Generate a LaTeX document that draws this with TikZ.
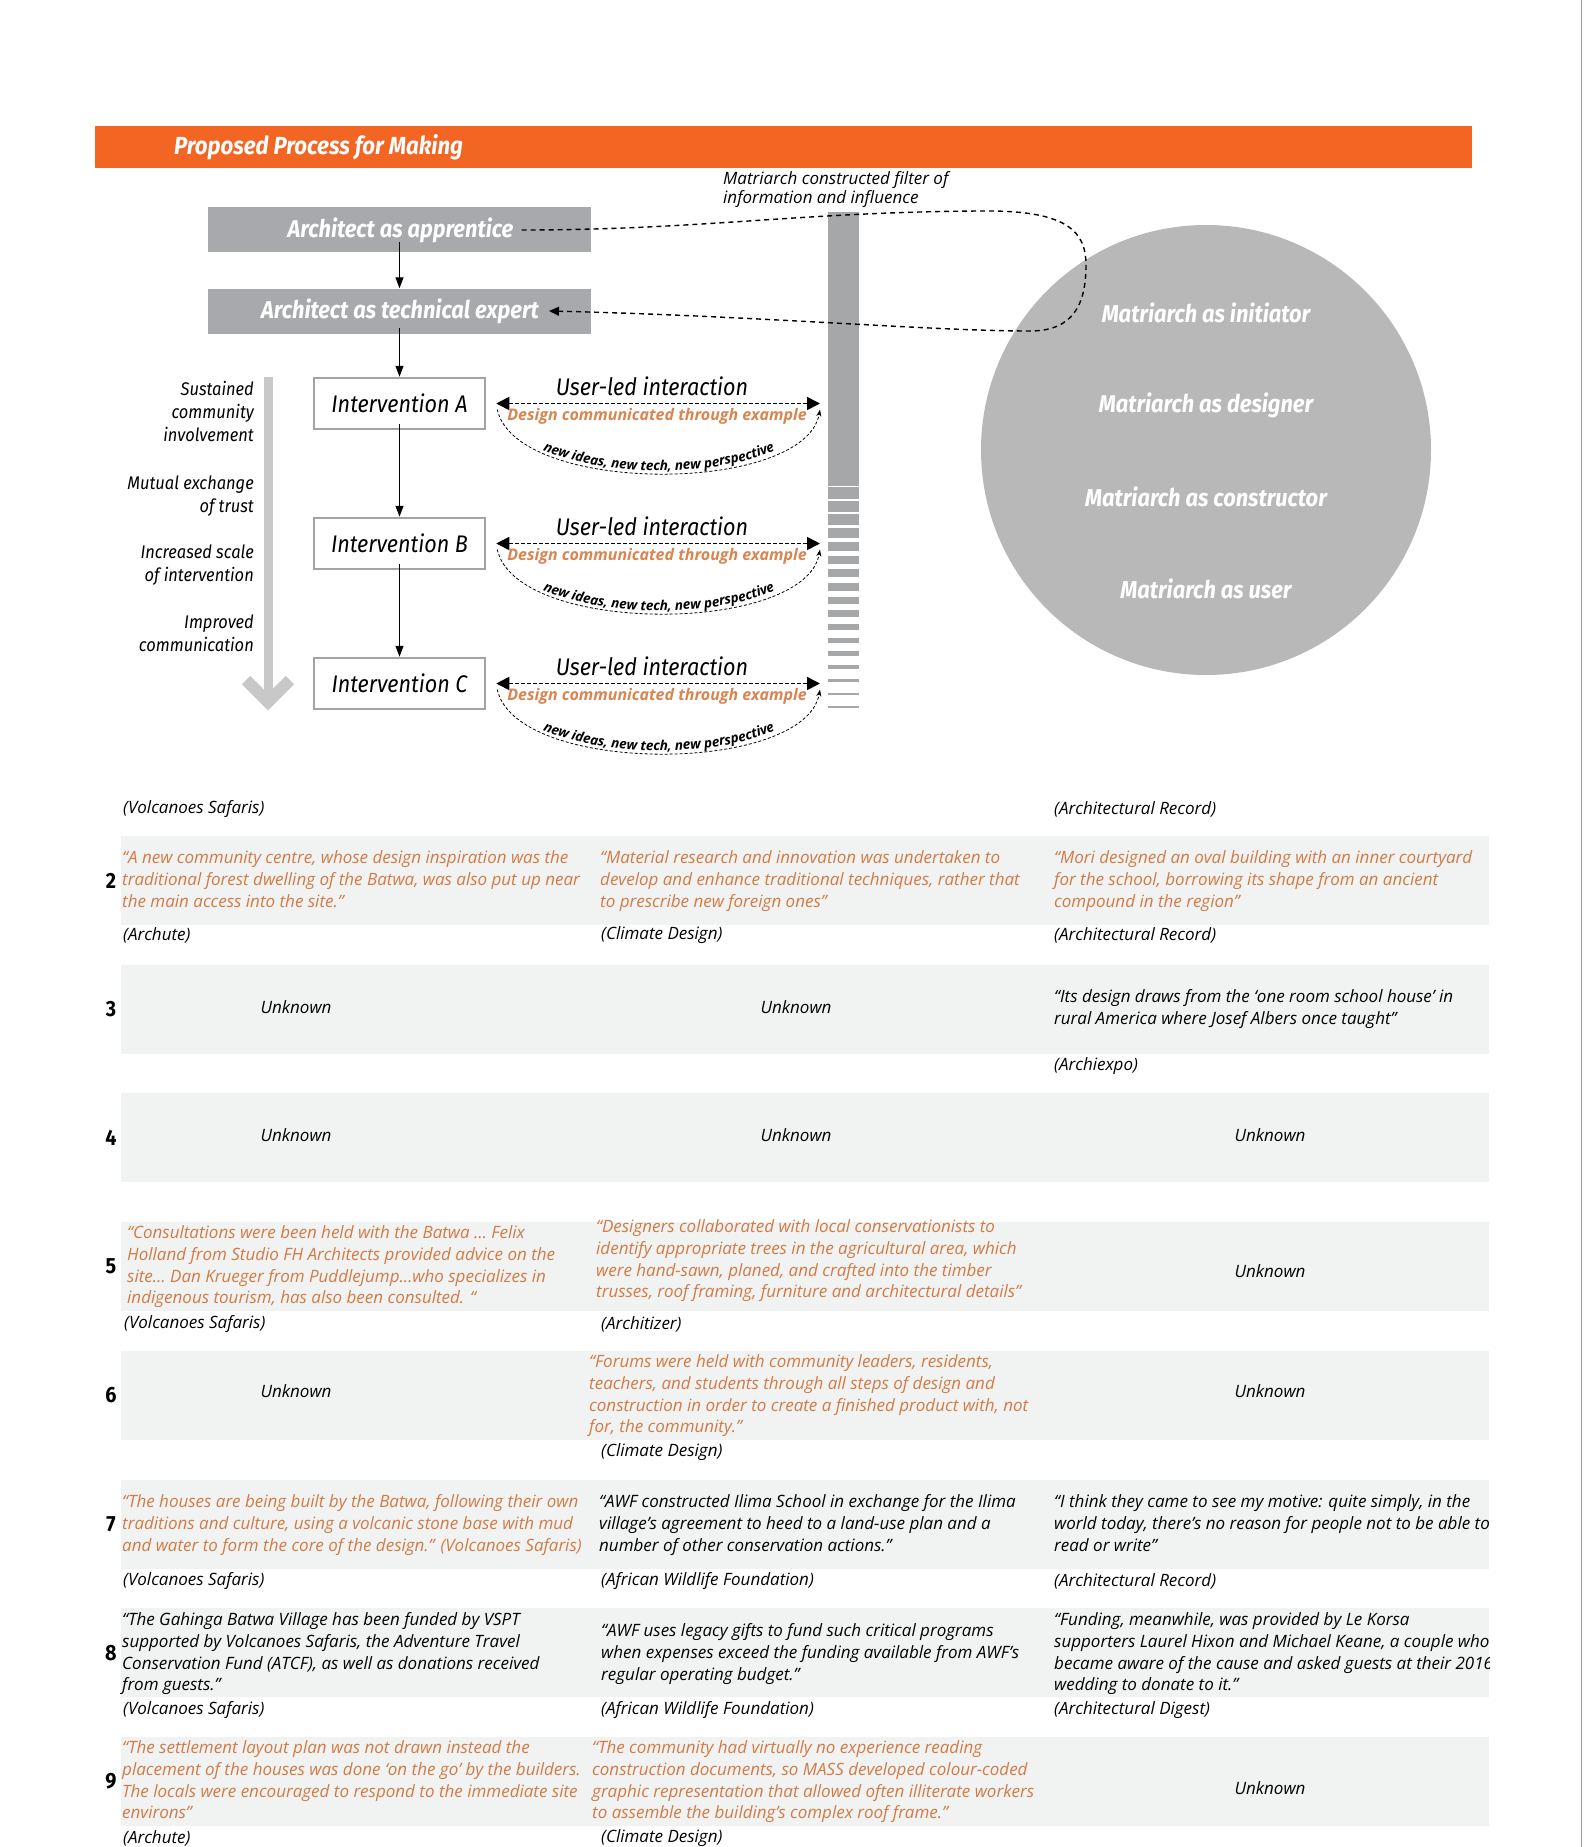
\documentclass[tikz,border=0pt]{standalone}
\usepackage{fontspec}
\setmainfont{Open Sans}
\newfontfamily\din{Fira Sans}[FakeStretch=0.9]
\usetikzlibrary{arrows.meta,decorations.text,calc}
\definecolor{bannerorange}{HTML}{F26522}
\definecolor{txtorange}{HTML}{D27B45}
\definecolor{dceorange}{HTML}{DA8550}
\definecolor{boxgray}{HTML}{A7A9AC}
\definecolor{circgray}{HTML}{B8B8B8}
\definecolor{bargray}{HTML}{A6A7A9}
\definecolor{lightarrow}{HTML}{C8C8C8}
\definecolor{bandgray}{HTML}{F1F2F2}
\definecolor{ivborder}{HTML}{A3A3A3}
\definecolor{edgegray}{HTML}{9A9A9A}
\tikzset{
  archbox/.style={fill=boxgray, minimum width=383pt, minimum height=45pt, inner sep=0pt},
  archtxt/.style={text=white, inner sep=0pt, font=\din\bfseries\itshape\fontsize{24.3}{28}\selectfont},
  flow/.style={line width=1.2pt, -{Triangle[length=11pt,width=8pt]}},
  ivbox/.style={draw=ivborder, line width=2.5pt, fill=white, minimum width=171pt, minimum height=51pt, inner sep=0pt, font=\din\itshape\fontsize{24}{28}\selectfont},
  sidelab/.style={align=right, anchor=east, inner sep=0pt, font=\din\itshape\fontsize{18.3}{23}\selectfont},
  uli/.style={inner sep=0pt, font=\din\itshape\fontsize{24}{28}\selectfont},
  dce/.style={inner sep=0pt, text=dceorange, font=\bfseries\itshape\fontsize{16}{18}\selectfont},
  dbl/.style={line width=1.6pt, dash pattern=on 4pt off 2pt, {Triangle[length=13pt,width=13pt]}-{Triangle[length=13pt,width=13pt]}, shorten <=10pt, shorten >=8pt},
  arcd/.style={line width=0.8pt, dash pattern=on 3pt off 2pt, -{Stealth[length=7pt,width=5pt]}},
  loopd/.style={line width=1.4pt, dash pattern=on 5pt off 4pt, -{Triangle[length=10pt,width=9pt]}},
  matx/.style={text=white, inner sep=0pt, font=\din\bfseries\itshape\fontsize{24.3}{28}\selectfont},
  rownum/.style={inner sep=0pt, font=\din\bfseries\fontsize{22}{24}\selectfont},
  tb/.style={anchor=west, align=left, inner sep=0pt, font=\itshape\fontsize{17}{21.7}\selectfont},
  tbo/.style={tb, text=txtorange},
  unk/.style={inner sep=0pt, font=\itshape\fontsize{17}{21.7}\selectfont}
}
\begin{document}
\begin{tikzpicture}[x=1pt,y=-1pt]
\useasboundingbox (0,0) rectangle (1583,1847);
\fill[white] (0,0) rectangle (1583,1847);
% right page edge
\draw[edgegray, line width=1.5pt] (1581.5,0) -- (1581.5,1847);

% banner
\node[fill=bannerorange, minimum width=1377pt, minimum height=42pt, inner sep=0pt, anchor=north west] (banner) at (95,126) {};
\node[anchor=west, text=white, inner sep=0pt, font=\din\bfseries\itshape\fontsize{24.7}{28}\selectfont] (title) at (174,147) {Proposed Process for Making};

% caption
\node[anchor=west, align=left, inner sep=0pt, font=\itshape\fontsize{17}{18}\selectfont] (cap) at (723,190) {\strut Matriarch constructed filter of\\information and influence\strut};

% architect boxes
\node[archbox] (app) at (399.5,229.5) {};
\node[archtxt] (appt) at (400.5,230) {Architect as apprentice};
\node[archbox] (tech) at (399.5,311) {};
\node[archtxt] (techt) at (400,311) {Architect as technical expert};

% interventions
\node[ivbox] (ivA) at (399.5,403.5) {Intervention A};
\node[ivbox] (ivB) at (399.5,543.5) {Intervention B};
\node[ivbox] (ivC) at (399.5,683.5) {Intervention C};

\draw[flow] ([yshift=10pt]app.south) -- (tech.north);
\draw[flow] ([yshift=6pt]tech.south) -- (ivA.north);
\draw[flow] ([yshift=6pt]ivA.south) -- (ivB.north);
\draw[flow] ([yshift=6pt]ivB.south) -- (ivC.north);

% left labels and gray arrow
\draw[line width=9pt, lightarrow] (268,377) -- (268,700);
\draw[line width=12pt, lightarrow] (246,680) -- (268,702) -- (290,680);
\node[sidelab] (l1) at (254,414) {\strut Sustained\\community\\involvement\strut};
\node[sidelab] (l2) at (254,496) {\strut Mutual exchange\\of trust\strut};
\node[sidelab] (l3) at (254,565.5) {\strut Increased scale\\of intervention\strut};
\node[sidelab] (l4) at (254,635.5) {\strut Improved\\communication\strut};

% filter bar
\node[fill=bargray, minimum width=31pt, minimum height=274pt, inner sep=0pt, anchor=north west] (filter) at (828,212) {};
\foreach \i in {0,...,16} {
  \fill[bargray] (828,{487+13.7*\i}) rectangle (859,{487+13.7*\i+12-0.62*\i});
}

% user-led interactions
\foreach \n/\dy in {A/0,B/140,C/280} {
  \node[uli] (uli\n) at (652,{386+\dy}) {User-led interaction};
  \draw[dbl] (iv\n.east) -- (iv\n.east -| filter.west);
  \node[dce] (dce\n) at (657,{416+\dy}) {Design communicated through example};
  \coordinate (as\n) at ($(iv\n.east)+(11,6)$);
  \coordinate (ae\n) at ($(iv\n.east -| filter.west)+(-8,6)$);
  \draw[arcd] (as\n) .. controls ($(as\n)+(19,86)$) and ($(ae\n)+(-15,85)$) .. (ae\n);
  \path[decorate, decoration={text along path, text align=center, raise=3pt,
     text={|\bfseries\itshape\fontsize{13.5}{14}\selectfont|new ideas{,} new tech{,} new perspective}}]
     (as\n) .. controls ($(as\n)+(19,86)$) and ($(ae\n)+(-15,85)$) .. (ae\n);
}

% matriarch circle
\node[circle, fill=circgray, minimum size=450pt, inner sep=0pt] (matri) at (1206,450) {};
\node[matx] (m1) at (1206,313) {Matriarch as initiator};
\node[matx] (m2) at (1206,405) {Matriarch as designer};
\node[matx] (m3) at (1206,497) {Matriarch as constructor};
\node[matx] (m4) at (1206,589) {Matriarch as user};

% dashed loop
\draw[loopd] ($(appt.east)+(8,0)$) .. controls (700,230) and (800,212) .. (980,211)
  .. controls (1062,210) and (1086,228) .. (1086,265)
  .. controls (1086,306) and (1072,331) .. (1030,331)
  .. controls (930,331) and (760,316) .. ($(techt.east)+(10,0)$);

% table bands
\foreach \r in {0,...,7} {
  \fill[bandgray] (121,{836+128.7*\r}) rectangle (1489,{925+128.7*\r});
}
\foreach \r in {2,...,9} {
  \node[rownum] (n\r) at (111,{880.5+128.7*(\r-2)}) {\r};
}

\begin{scope}
\clip (0,780) rectangle (1489,1847);
% row 1
\node[tb] (s1a) at (123,809) {(Volcanoes Safaris)};
\node[tb] (s1c) at (1054,809) {(Architectural Record)};
% row 2
\node[tbo] (q2a) at (122,881) {\strut “A new community centre, whose design inspiration was the\\traditional forest dwelling of the Batwa, was also put up near\\the main access into the site.”\strut};
\node[tbo] (q2b) at (600,881) {\strut “Material research and innovation was undertaken to\\develop and enhance traditional techniques, rather that\\to prescribe new foreign ones”\strut};
\node[tbo] (q2c) at (1054,881) {\strut “Mori designed an oval building with an inner courtyard\\for the school, borrowing its shape from an ancient\\compound in the region”\strut};
\node[tb] (s2a) at (123,935) {(Archute)};
\node[tb] (s2b) at (601,935) {(Climate Design)};
\node[tb] (s2c) at (1054,935) {(Architectural Record)};
% row 3
\node[unk] (u3a) at (296,1007) {Unknown};
\node[unk] (u3b) at (796,1007) {Unknown};
\node[tb] (q3c) at (1054,1009) {\strut “Its design draws from the ‘one room school house’ in\\rural America where Josef Albers once taught”\strut};
\node[tb] (s3c) at (1054,1066) {(Archiexpo)};
% row 4
\node[unk] (u4a) at (296,1135) {Unknown};
\node[unk] (u4b) at (796,1135) {Unknown};
\node[unk] (u4c) at (1270,1135) {Unknown};
% row 5
\node[tbo] (q5a) at (127,1267) {\strut “Consultations were been held with the Batwa … Felix\\Holland from Studio FH Architects provided advice on the\\site… Dan Krueger from Puddlejump…who specializes in\\indigenous tourism, has also been consulted. “\strut};
\node[tbo] (q5b) at (596,1261) {\strut “Designers collaborated with local conservationists to\\identify appropriate trees in the agricultural area, which\\were hand-sawn, planed, and crafted into the timber\\trusses, roof framing, furniture and architectural details”\strut};
\node[unk] (u5c) at (1270,1271) {Unknown};
\node[tb] (s5a) at (124,1324) {(Volcanoes Safaris)};
\node[tb] (s5b) at (601,1324) {(Architizer)};
% row 6
\node[unk] (u6a) at (296,1391) {Unknown};
\node[tbo] (q6b) at (589,1396) {\strut “Forums were held with community leaders, residents,\\teachers, and students through all steps of design and\\construction in order to create a finished product with, not\\for, the community.”\strut};
\node[unk] (u6c) at (1270,1391) {Unknown};
\node[tb] (s6b) at (601,1452) {(Climate Design)};
% row 7
\node[tbo] (q7a) at (122,1525) {\strut “The houses are being built by the Batwa, following their own\\traditions and culture, using a volcanic stone base with mud\\and water to form the core of the design.” (Volcanoes Safaris)\strut};
\node[tb] (q7b) at (599,1525) {\strut “AWF constructed Ilima School in exchange for the Ilima\\village’s agreement to heed to a land-use plan and a\\number of other conservation actions.”\strut};
\node[tb] (q7c) at (1054,1525) {\strut “I think they came to see my motive: quite simply, in the\\world today, there’s no reason for people not to be able to\\read or write”\strut};
\node[tb] (s7a) at (123,1581) {(Volcanoes Safaris)};
\node[tb] (s7b) at (601,1581) {(African Wildlife Foundation)};
\node[tb] (s7c) at (1054,1581) {(Architectural Record)};
% row 8
\node[tb] (q8a) at (122,1654) {\strut “The Gahinga Batwa Village has been funded by VSPT\\supported by Volcanoes Safaris, the Adventure Travel\\Conservation Fund (ATCF), as well as donations received\\from guests.”\strut};
\node[tb] (q8b) at (601,1654) {\strut “AWF uses legacy gifts to fund such critical programs\\when expenses exceed the funding available from AWF’s\\regular operating budget.”\strut};
\node[tb] (q8c) at (1054,1654) {\strut “Funding, meanwhile, was provided by Le Korsa\\supporters Laurel Hixon and Michael Keane, a couple who\\became aware of the cause and asked guests at their 2016\\wedding to donate to it.”\strut};
\node[tb] (s8a) at (123,1710) {(Volcanoes Safaris)};
\node[tb] (s8b) at (601,1710) {(African Wildlife Foundation)};
\node[tb] (s8c) at (1054,1710) {(Architectural Digest)};
% row 9
\node[tbo] (q9a) at (122,1782) {\strut “The settlement layout plan was not drawn instead the\\placement of the houses was done ‘on the go’ by the builders.\\The locals were encouraged to respond to the immediate site\\environs”\strut};
\node[tbo] (q9b) at (592,1782) {\strut “The community had virtually no experience reading\\construction documents, so MASS developed colour-coded\\graphic representation that allowed often illiterate workers\\to assemble the building’s complex roof frame.”\strut};
\node[unk] (u9c) at (1270,1788) {Unknown};
\node[tb] (s9a) at (123,1838) {(Archute)};
\node[tb] (s9b) at (601,1838) {(Climate Design)};
\end{scope}
\end{tikzpicture}
\end{document}
